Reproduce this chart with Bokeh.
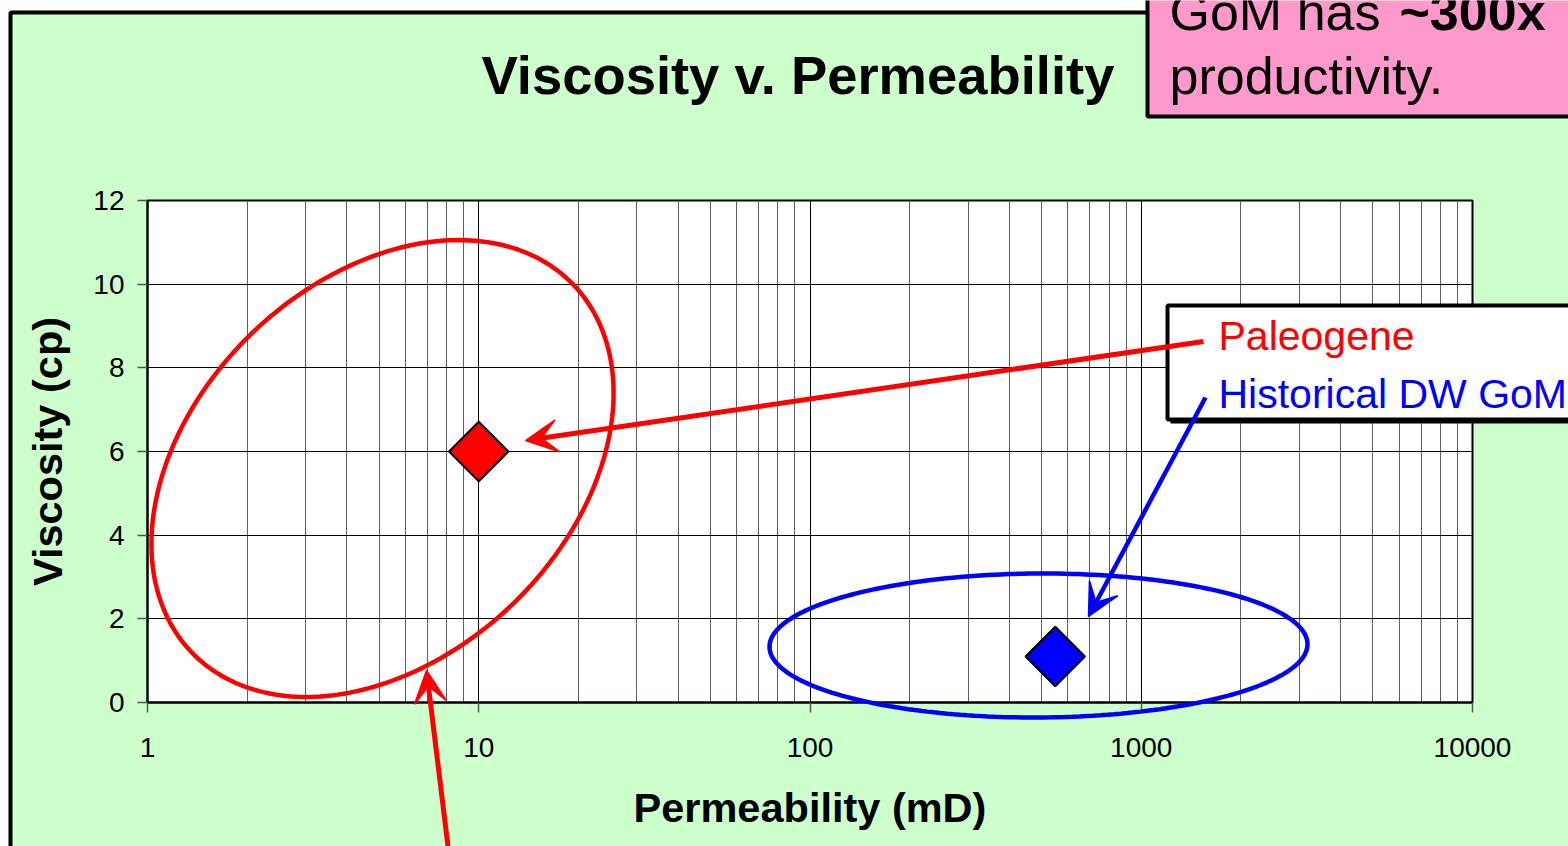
import math
import numpy as np
from bokeh.plotting import figure
from bokeh.models import (ColumnDataSource, Range1d, FixedTicker, Label, BoxAnnotation,
                          PolyAnnotation, Arrow, VeeHead)
from bokeh.embed import file_html
from bokeh.resources import INLINE

# ---------------- data ----------------
series = ["Paleogene", "Historical DW GoM"]
permeability_md = [10, 550]
viscosity_cp = [6.0, 1.1]
series_colors = ["#FF0000", "#0000FF"]

x_ticks = [1, 10, 100, 1000, 10000]
x_tick_labels = ["1", "10", "100", "1000", "10000"]
y_ticks = [0, 2, 4, 6, 8, 10, 12]
y_tick_labels = ["0", "2", "4", "6", "8", "10", "12"]

title_text = "Viscosity v. Permeability"
x_label = "Permeability (mD)"
y_label = "Viscosity (cp)"
callout_regular = "GoM has "
callout_bold = "~300x"
callout_line2 = "productivity."

# ---------------- layout ----------------
W, H = 1568, 846
FL, FR, FT, FB = 147, 1472, 200, 702   # plot-area edges in canvas pixels
X0, X1, Y0, Y1 = 1, 10000, 0, 12
FONT = "Liberation Sans"
GREEN = "#CCFFCC"
PINK = "#FF99CC"
BASE_SHIFT = 0.36   # svg alphabetic-baseline correction (fraction of font size)


def dx(px):
    lo, hi = math.log10(X0), math.log10(X1)
    return 10 ** (lo + (px - FL) / (FR - FL) * (hi - lo))


def dy(py):
    return Y0 + (FB - py) / (FB - FT) * (Y1 - Y0)


# ================= main chart =================
p = figure(width=W, height=H, x_axis_type="log",
           x_range=Range1d(X0, X1), y_range=Range1d(Y0, Y1),
           output_backend="svg", toolbar_location=None,
           min_border_left=FL, min_border_right=W - FR,
           min_border_top=FT, min_border_bottom=H - FB,
           background_fill_color="white", border_fill_color=GREEN,
           outline_line_color="black", outline_line_width=2)

minor = [m * d for d in x_ticks[:-1] for m in range(2, 10)]
p.xaxis.ticker = FixedTicker(ticks=x_ticks, minor_ticks=minor)
p.xaxis.major_label_overrides = {t: l for t, l in zip(x_ticks, x_tick_labels)}
p.yaxis.ticker = FixedTicker(ticks=y_ticks)
p.yaxis.major_label_overrides = {t: l for t, l in zip(y_ticks, y_tick_labels)}

for ax in (p.xaxis, p.yaxis):
    ax.axis_line_color = "black"
    ax.axis_line_width = 2
    ax.major_tick_out = 10
    ax.major_tick_in = 0
    ax.major_tick_line_color = "#555555"
    ax.major_tick_line_width = 1.5
    ax.minor_tick_line_color = None
    ax.major_label_text_font = FONT
    ax.major_label_text_font_size = "28px"
    ax.major_label_text_color = "black"
    ax.axis_label_text_font = FONT
    ax.axis_label_text_font_size = "41.5px"
    ax.axis_label_text_font_style = "bold"
    ax.axis_label_text_color = "black"

p.xaxis.axis_label = x_label
p.yaxis.axis_label = y_label
p.xaxis.major_label_standoff = 25
p.yaxis.major_label_standoff = 13
p.xaxis.axis_label_standoff = 24
p.yaxis.axis_label_standoff = 19

p.xgrid.grid_line_color = "black"
p.xgrid.grid_line_width = 1
p.xgrid.minor_grid_line_color = "#5e5e5e"
p.xgrid.minor_grid_line_width = 1
p.ygrid.grid_line_color = "black"
p.ygrid.grid_line_width = 1

src = ColumnDataSource(dict(k=permeability_md, mu=viscosity_cp, name=series, color=series_colors))
p.scatter(x="k", y="mu", source=src, marker="square", size=42, angle=math.pi / 4,
          fill_color="color", line_color="black", line_width=2)

# ================= transparent overlay (separate root, same data space) =================
ov = figure(width=W, height=H, x_axis_type="log",
            x_range=Range1d(dx(0), dx(W)), y_range=Range1d(dy(H), dy(0)),
            output_backend="svg", toolbar_location=None, min_border=0,
            x_axis_location=None, y_axis_location=None,
            background_fill_color=None, border_fill_color=None,
            outline_line_color=None,
            styles={"position": "absolute", "left": "0px", "top": "0px"},
            stylesheets=[":host { position: absolute !important; left: 0px !important; top: 0px !important; }"])
ov.grid.visible = False


def text(px, baseline_py, txt, size, color="black", bold=False):
    ov.add_layout(Label(x=dx(px), y=dy(baseline_py - BASE_SHIFT * size), text=txt,
                        text_font=FONT, text_font_size=f"{size}px",
                        text_font_style="bold" if bold else "normal", text_color=color,
                        text_align="left", text_baseline="alphabetic"))


# white page strips and slide border
ov.add_layout(BoxAnnotation(left=dx(-50), right=dx(2000), top=dy(-50), bottom=dy(10),
                            fill_color="white", fill_alpha=1, line_color=None))
ov.add_layout(BoxAnnotation(left=dx(-50), right=dx(8), top=dy(-50), bottom=dy(1000),
                            fill_color="white", fill_alpha=1, line_color=None))
ov.add_layout(BoxAnnotation(left=dx(10), right=dx(2000), top=dy(12), bottom=dy(1000),
                            fill_color=None, fill_alpha=0, line_color="black", line_width=4,
                            line_alpha=1))

# title
text(481, 95, title_text, 54.4, bold=True)

# pink callout
ov.add_layout(BoxAnnotation(left=dx(1147), right=dx(2000), top=dy(-100), bottom=dy(116),
                            fill_color=PINK, fill_alpha=1, line_color="black", line_width=4,
                            line_alpha=1))
text(1169, 30, callout_regular, 52)
text(1399, 30, callout_bold, 52, bold=True)
text(1169, 94, callout_line2, 52)


def ellipse_poly(cx, cy, a, b, ang_deg, n=240):
    t = np.linspace(0, 2 * np.pi, n)
    th = math.radians(ang_deg)
    px = cx + a * np.cos(t) * math.cos(th) - b * np.sin(t) * math.sin(th)
    py = cy - (a * np.cos(t) * math.sin(th) + b * np.sin(t) * math.cos(th))
    return [dx(v) for v in px], [dy(v) for v in py]


rx, ry = ellipse_poly(382, 468, 265, 188, 44)
ov.add_layout(PolyAnnotation(xs=rx, ys=ry, fill_color=None, fill_alpha=0,
                             line_color="#FF0000", line_alpha=1, line_width=4.5))
bx, by = ellipse_poly(1038, 645, 269, 72, 0.3)
ov.add_layout(PolyAnnotation(xs=bx, ys=by, fill_color=None, fill_alpha=0,
                             line_color="#0000FF", line_alpha=1, line_width=4.5))

# legend-like text box with shadow
ov.add_layout(BoxAnnotation(left=dx(1170), right=dx(2000), top=dy(308), bottom=dy(423),
                            fill_color="black", fill_alpha=1, line_color=None))
ov.add_layout(BoxAnnotation(left=dx(1167), right=dx(2000), top=dy(305), bottom=dy(419),
                            fill_color="white", fill_alpha=1, line_color="black", line_width=4,
                            line_alpha=1))
text(1218, 350, series[0], 41, color=series_colors[0])
text(1218, 408, series[1], 41, color=series_colors[1])

# arrows
ov.add_layout(Arrow(x_start=dx(1203), y_start=dy(341), x_end=dx(525), y_end=dy(440),
                    line_color="#FF0000", line_width=5,
                    end=VeeHead(size=32, fill_color="#FF0000", line_color="#FF0000",
                                line_width=1.5)))
ov.add_layout(Arrow(x_start=dx(1205), y_start=dy(397), x_end=dx(1088), y_end=dy(616),
                    line_color="#0000FF", line_width=4.5,
                    end=VeeHead(size=32, fill_color="#0000FF", line_color="#0000FF",
                                line_width=1.5)))
ov.add_layout(Arrow(x_start=dx(448), y_start=dy(850), x_end=dx(426), y_end=dy(670),
                    line_color="#FF0000", line_width=5,
                    end=VeeHead(size=32, fill_color="#FF0000", line_color="#FF0000",
                                line_width=1.5)))

open("out.html", "w").write(file_html([p, ov], INLINE))
